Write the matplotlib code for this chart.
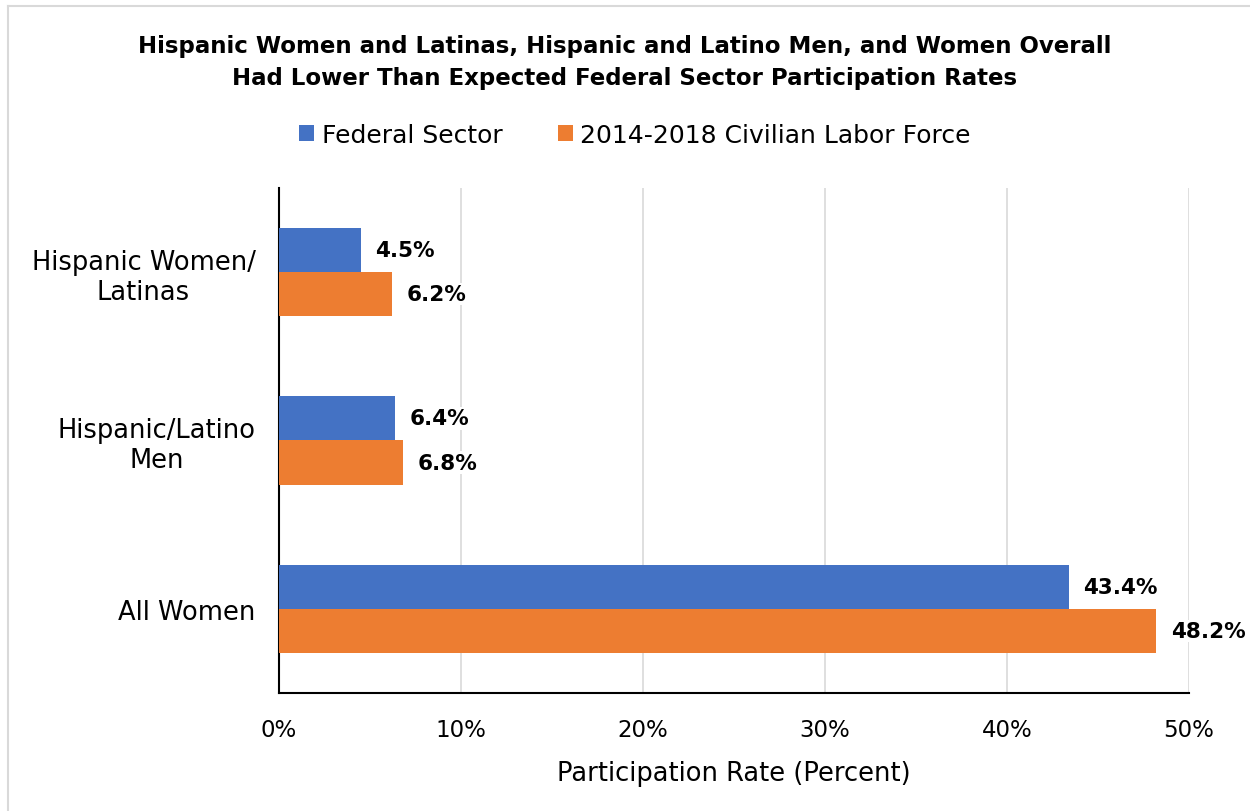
import matplotlib.pyplot as plt
import numpy as np
from matplotlib.lines import Line2D

plt.rcParams['font.family'] = ['DejaVu Sans']

categories = ["Hispanic Women/\nLatinas", "Hispanic/Latino\nMen", "All Women"]
federal = [4.5, 6.4, 43.4]
clf = [6.2, 6.8, 48.2]
series_names = ["Federal Sector", "2014-2018 Civilian Labor Force"]
xticks = [0, 10, 20, 30, 40, 50]

blue = '#4472C4'
orange = '#ED7D31'

fig = plt.figure(figsize=(12.5, 8.12), dpi=100)
# chart border (only top and left edges are visible in the crop)
fig.add_artist(Line2D([0.0064, 1.0], [0.9914, 0.9914], transform=fig.transFigure,
                      color='#d9d9d9', linewidth=1.5))
fig.add_artist(Line2D([0.0064, 0.0064], [0.0, 0.9914], transform=fig.transFigure,
                      color='#d9d9d9', linewidth=1.5))
ax = fig.add_axes([0.2232, 0.1453, 0.728, 0.622])

# categories top to bottom
y = np.arange(len(categories))[::-1]
h = 0.262
b1 = ax.barh(y + h / 2, federal, height=h, color=blue, label=series_names[0], zorder=3)
b2 = ax.barh(y - h / 2, clf, height=h, color=orange, label=series_names[1], zorder=3)

for bars, vals in [(b1, federal), (b2, clf)]:
    for bar, v in zip(bars, vals):
        ax.text(v + 0.8, bar.get_y() + bar.get_height() / 2, "%.1f%%" % v,
                va='center', ha='left', fontsize=15.5, fontweight='bold',
                bbox=dict(facecolor='white', edgecolor='none', pad=1), zorder=4)

ax.set_xlim(0, 50)
ax.set_ylim(-0.5, 2.5)
ax.set_xticks(xticks)
ax.set_xticklabels(["%d%%" % t for t in xticks], fontsize=16.5)
ax.set_yticks(y)
ax.set_yticklabels(categories, fontsize=18.5, multialignment='center')
ax.tick_params(axis='both', length=0)
ax.tick_params(axis='x', pad=18)
ax.tick_params(axis='y', pad=17)
ax.grid(axis='x', color='#d9d9d9', linewidth=1.2, zorder=0)
for s in ['top', 'right']:
    ax.spines[s].set_visible(False)
ax.spines['left'].set_linewidth(1.5)
ax.spines['bottom'].set_linewidth(1.5)
ax.set_xlabel("Participation Rate (Percent)", fontsize=18.5, labelpad=14)

fig.text(0.5, 0.923, "Hispanic Women and Latinas, Hispanic and Latino Men, and Women Overall\n"
         "Had Lower Than Expected Federal Sector Participation Rates",
         ha='center', va='center', fontsize=16.5, fontweight='bold', linespacing=1.45)

fig.legend(loc='center', bbox_to_anchor=(0.508, 0.833), ncol=2, frameon=False,
           fontsize=18, handlelength=0.6, handleheight=0.6, handletextpad=0.3,
           columnspacing=2.2)

fig.savefig("out.png", dpi=100)
